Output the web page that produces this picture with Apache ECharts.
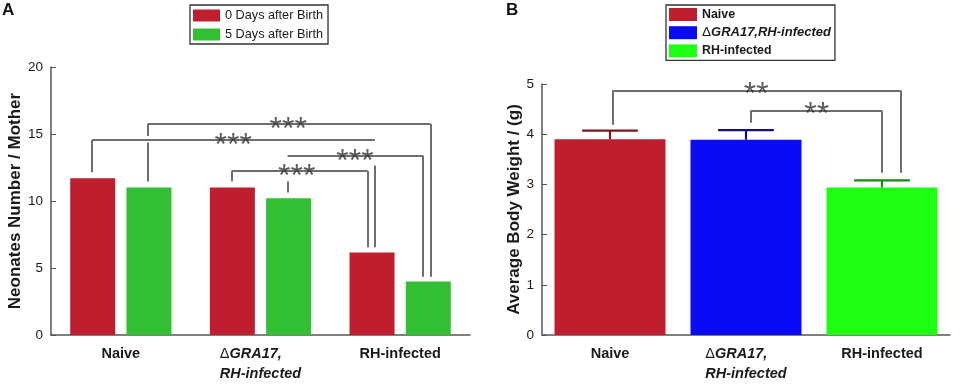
<!DOCTYPE html>
<html>
<head>
<meta charset="utf-8">
<script src="https://cdn.jsdelivr.net/npm/echarts@6/dist/echarts.min.js"></script>
<style>
  html, body {margin: 0; padding: 0; background: #fff;}
  #chart {width: 965px; height: 384px;}
</style>
</head>
<body>
<div id="chart"></div>
<script>
// ---- data ----
const groups = ['Naive', 'ΔGRA17,RH-infected', 'RH-infected'];
const seriesA = ['0 Days after Birth', '5 Days after Birth'];
const day0 = [11.7, 11.0, 6.15];
const day5 = [11.0, 10.2, 4.0];
const ticksA = [0, 5, 10, 15, 20];

const weightMean = [3.90, 3.89, 2.94];
const weightErr = [0.17, 0.19, 0.14];
const ticksB = [0, 1, 2, 3, 4, 5];

// significance brackets, x in category units, y in axis values
const bracketsA = [
    {x: [-0.206, 1.819], top: 14.56, left: [[14.56, 12.15]], right: [[12.65, 6.55]], text: '***', tx: 0.805},
    {x: [0.192, 2.218], top: 15.74, left: [[15.74, 14.86], [14.37, 11.46]], right: [[15.74, 4.35]], text: '***', tx: 1.199},
    {x: [0.793, 1.767], top: 12.23, left: [[12.23, 11.46]], right: [[12.23, 6.55]], text: '***', tx: 1.259},
    {x: [1.194, 2.165], top: 13.38, left: [[11.46, 10.63]], right: [[13.38, 4.35]], text: '***', tx: 1.676}
];
const bracketsB = [
    {x: [0.017, 2.138], top: 4.87, left: [[4.87, 4.19]], right: [[4.87, 3.23]], text: '**', tx: 1.075},
    {x: [1.036, 1.998], top: 4.47, left: [[4.47, 4.23]], right: [[4.47, 3.23]], text: '**', tx: 1.52}
];

// ---- styles ----
const font = "'Liberation Sans', Arial, sans-serif";
const red = '#be1e2d';
const greenA = '#33bf33';
const colorsB = ['#be1e2d', '#0a0af5', '#1eff14'];
const errColorsB = ['#7a1820', '#10107a', '#118a11'];
const axisGray = '#555';
const bracketGray = '#6e6e6e';

const segs = (list) => {
    const out = [];
    list.forEach(b => {
        out.push({coords: [[b.x[0], b.top], [b.x[1], b.top]]});
        b.left.forEach(s => out.push({coords: [[b.x[0], s[0]], [b.x[0], s[1]]]}));
        b.right.forEach(s => out.push({coords: [[b.x[1], s[0]], [b.x[1], s[1]]]}));
    });
    return out;
};

const catLabel = {
    interval: 0,
    fontFamily: font,
    fontSize: 14.5,
    fontWeight: 'bold',
    color: '#1a1a1a',
    lineHeight: 20,
    margin: 9,
    formatter: v => v.indexOf('Δ') === 0
        ? '{d|Δ}{i|GRA17,}\n{i|RH-infected}'
        : v,
    rich: {
        d: {fontWeight: 'normal', fontSize: 14.5, align: 'left', fontFamily: font},
        i: {fontStyle: 'italic', fontWeight: 'bold', fontSize: 14.5, align: 'left', fontFamily: font}
    }
};

const catAxis = (gi) => ({
    type: 'category',
    gridIndex: gi,
    data: groups,
    axisLine: {lineStyle: {color: axisGray, width: 1.5}},
    axisTick: {inside: true, alignWithLabel: true, length: 4, lineStyle: {color: axisGray}},
    axisLabel: catLabel
});
const valX = (gi) => ({type: 'value', gridIndex: gi, min: -0.5, max: 2.5, show: false});
const valY = (gi, max, interval, name, gap) => ({
    type: 'value',
    gridIndex: gi,
    min: 0,
    max: max,
    interval: interval,
    name: name,
    nameLocation: 'middle',
    nameGap: gap,
    nameTextStyle: {fontFamily: font, fontSize: 17, fontWeight: 'bold', color: '#1a1a1a'},
    splitLine: {show: false},
    axisLine: {show: true, onZero: false, lineStyle: {color: axisGray, width: 1.5}},
    axisTick: {show: true, inside: true, length: 5, lineStyle: {color: axisGray}},
    axisLabel: {fontFamily: font, fontSize: 13.5, color: '#1a1a1a', margin: 8}
});

const starSeries = (list, xi, yi, dy) => ({
    type: 'scatter',
    xAxisIndex: xi,
    yAxisIndex: yi,
    symbolSize: 0,
    silent: true,
    data: list.map(b => ({value: [b.tx, b.top], name: b.text})),
    label: {
        show: true,
        position: 'inside',
        formatter: p => p.name,
        fontFamily: font,
        fontSize: 32,
        color: '#333',
        offset: [0, dy]
    },
    z: 5
});

const bracketSeries = (list, xi, yi) => ({
    type: 'lines',
    coordinateSystem: 'cartesian2d',
    xAxisIndex: xi,
    yAxisIndex: yi,
    silent: true,
    lineStyle: {color: bracketGray, width: 2, opacity: 1},
    data: segs(list),
    z: 4
});

const chart = echarts.init(document.getElementById('chart'));
chart.setOption({
    animation: false,
    textStyle: {fontFamily: font},
    graphic: [
        {type: 'text', left: 2, top: 2, style: {text: 'A', font: 'bold 17px ' + font, fill: '#111'}},
        {type: 'text', left: 506, top: 2, style: {text: 'B', font: 'bold 17px ' + font, fill: '#111'}}
    ],
    legend: [
        {
            data: seriesA,
            orient: 'vertical',
            left: 190,
            top: 5,
            icon: 'rect',
            itemWidth: 27,
            itemHeight: 12,
            itemGap: 6,
            padding: [4, 5, 3, 3],
            borderColor: '#333',
            borderWidth: 1.3,
            selectedMode: false,
            textStyle: {fontFamily: font, fontSize: 12.7, color: '#1a1a1a'}
        },
        {
            data: groups,
            orient: 'vertical',
            left: 666,
            top: 5,
            icon: 'rect',
            itemWidth: 28,
            itemHeight: 13,
            itemGap: 4.7,
            padding: [3, 4, 3, 3],
            borderColor: '#333',
            borderWidth: 1.3,
            selectedMode: false,
            formatter: n => n.indexOf('Δ') === 0 ? '{d|Δ}{i|GRA17,RH-infected}' : n,
            textStyle: {
                fontFamily: font, fontSize: 12.4, fontWeight: 'bold', color: '#1a1a1a',
                rich: {
                    d: {fontFamily: font, fontSize: 13.5, fontWeight: 'normal', color: '#1a1a1a'},
                    i: {fontFamily: font, fontSize: 13, fontWeight: 'bold', fontStyle: 'italic', color: '#1a1a1a'}
                }
            }
        }
    ],
    grid: [
        {left: 51, right: 495, top: 67, bottom: 46},
        {left: 542, right: 15, top: 84, bottom: 46}
    ],
    xAxis: [catAxis(0), catAxis(1), valX(0), valX(1)],
    yAxis: [
        valY(0, ticksA[ticksA.length - 1], ticksA[1] - ticksA[0], 'Neonates Number / Mother', 27),
        valY(1, ticksB[ticksB.length - 1], ticksB[1] - ticksB[0], 'Average Body Weight / (g)', 17)
    ],
    series: [
        {name: seriesA[0], type: 'bar', xAxisIndex: 0, yAxisIndex: 0, data: day0,
         barWidth: 45, barGap: '25%', itemStyle: {color: red}},
        {name: seriesA[1], type: 'bar', xAxisIndex: 0, yAxisIndex: 0, data: day5,
         barWidth: 45, barGap: '25%', itemStyle: {color: greenA}},
        ...groups.map((g, i) => ({
            name: g, type: 'bar', xAxisIndex: 1, yAxisIndex: 1,
            data: weightMean.map((v, j) => j === i ? v : '-'),
            barWidth: 111, barGap: '-100%',
            itemStyle: {color: colorsB[i]}
        })),
        {
            type: 'custom',
            xAxisIndex: 1,
            yAxisIndex: 1,
            silent: true,
            data: weightMean.map((v, i) => [i, v, v + weightErr[i]]),
            renderItem: (params, api) => {
                const i = api.value(0);
                const base = api.coord([i, api.value(1)]);
                const hi = api.coord([i, api.value(2)]);
                const half = api.size([1, 0])[0] * 0.205;
                const st = {stroke: errColorsB[i], lineWidth: 2.2};
                return {
                    type: 'group',
                    children: [
                        {type: 'line', shape: {x1: base[0], y1: base[1], x2: hi[0], y2: hi[1]}, style: st},
                        {type: 'line', shape: {x1: hi[0] - half, y1: hi[1], x2: hi[0] + half, y2: hi[1]}, style: st}
                    ]
                };
            },
            z: 3
        },
        bracketSeries(bracketsA, 2, 0),
        bracketSeries(bracketsB, 3, 1),
        starSeries(bracketsA, 2, 0, 6),
        starSeries(bracketsB, 3, 1, 5)
    ]
});
</script>
</body>
</html>
